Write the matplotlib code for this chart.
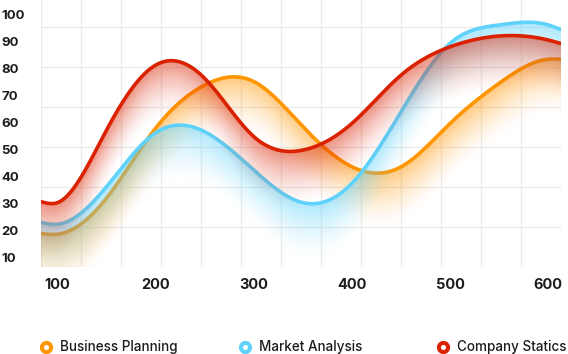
import numpy as np
import matplotlib
matplotlib.use('Agg')
import matplotlib.pyplot as plt
from matplotlib.lines import Line2D

# values
x = [83, 100, 150, 200, 250, 300, 350, 400, 450, 500, 550, 600, 612]
business = [19.0, 18.7, 32.1, 58.0, 74.0, 75.3, 58.6, 43.7, 43.7, 59.8, 74.7, 83.6, 83.6]
market = [23.1, 22.4, 36.3, 56.3, 56.7, 42.5, 30.4, 37.6, 64.1, 89.5, 96.3, 96.3, 94.7]
company = [30.8, 30.4, 57.3, 81.4, 76.5, 54.9, 49.9, 59.8, 77.7, 88.2, 92.2, 90.7, 89.5]
names = ['Business Planning', 'Market Analysis', 'Company Statics']
colors = ['#FF9500', '#5ED2FA', '#DA2200']
xticks = [100, 200, 300, 400, 500, 600]
yticks = [10, 20, 30, 40, 50, 60, 70, 80, 90, 100]

W, H = 568, 354
FONT = 'Inter'
TXT = '#1c1c1c'


def spline(xs, ys, xn):
    # natural cubic spline, just for drawing the curves smooth
    xs = np.asarray(xs, float)
    ys = np.asarray(ys, float)
    n = len(xs)
    h = np.diff(xs)
    A = np.zeros((n, n))
    b = np.zeros(n)
    A[0, 0] = A[-1, -1] = 1
    for i in range(1, n - 1):
        A[i, i - 1] = h[i - 1]
        A[i, i] = 2 * (h[i - 1] + h[i])
        A[i, i + 1] = h[i]
        b[i] = 3 * ((ys[i + 1] - ys[i]) / h[i] - (ys[i] - ys[i - 1]) / h[i - 1])
    c = np.linalg.solve(A, b)
    k = np.clip(np.searchsorted(xs, xn) - 1, 0, n - 2)
    bb = (ys[1:] - ys[:-1]) / h - h * (2 * c[:-1] + c[1:]) / 3
    d = (c[1:] - c[:-1]) / (3 * h)
    t = xn - xs[k]
    return ys[k] + bb[k] * t + c[k] * t ** 2 + d[k] * t ** 3


fig = plt.figure(figsize=(W / 100, H / 100), dpi=100)
rect = [41 / W, (H - 267) / H, 520 / W, 267 / H]

# background grid (40px cells, independent of the labels)
gax = fig.add_axes(rect, zorder=0)
gax.set_xlim(0, 13)
gax.set_ylim(0, 267 / 40)
gax.set_xticks(range(14))
gax.set_yticks(range(7))
gax.grid(True, color='#ececec', lw=1)
gax.tick_params(length=0, labelbottom=False, labelleft=False)
for s in gax.spines.values():
    s.set_visible(False)

ax = fig.add_axes(rect, zorder=1)
ax.patch.set_visible(False)
ylo, yhi = 6.55, 105.55
xlo, xhi = 83.3, 612.9

xn = np.linspace(x[0], x[-1], 700)
yy = np.linspace(ylo, yhi, 500)[:, None]
z = 2
for vals, col in zip([business, market, company], colors):
    ys = spline(x, vals, xn)
    d = (ys[None, :] - yy) / 21.0
    a = np.where((d >= 0) & (d <= 1), (1 - np.clip(d, 0, 1)) ** 1.5, 0) * 0.5
    img = np.zeros((len(yy), len(xn), 4))
    img[..., :3] = matplotlib.colors.to_rgb(col)
    img[..., 3] = a
    ax.imshow(img, extent=[xn[0], xn[-1], ylo, yhi], origin='lower',
              aspect='auto', interpolation='bilinear', zorder=z)
    ax.plot(xn, ys, color=col, lw=2.6, solid_capstyle='round', zorder=z + 1)
    z += 2

ax.set_xlim(xlo, xhi)
ax.set_ylim(ylo, yhi)
ax.set_xticks(xticks)
ax.set_yticks(yticks)
ax.tick_params(length=0)
ax.tick_params(axis='y', pad=28.8)
ax.tick_params(axis='x', pad=8)
for lab in ax.get_yticklabels():
    lab.set_ha('left')
    lab.set_fontfamily(FONT)
    lab.set_fontweight('bold')
    lab.set_fontsize(9.5)
    lab.set_color(TXT)
for lab in ax.get_xticklabels():
    lab.set_fontfamily(FONT)
    lab.set_fontweight('bold')
    lab.set_fontsize(10.5)
    lab.set_color(TXT)
for s in ax.spines.values():
    s.set_visible(False)

# legend row
leg_x = [46, 245, 443]
for px, name, col in zip(leg_x, names, colors):
    fig.add_artist(Line2D([px / W], [1 - 347 / H], transform=fig.transFigure,
                          marker='o', ms=6.6, mew=2.9, mec=col, mfc='white', lw=0))
    fig.text((px + 14) / W, 1 - 347 / H, name, family=FONT, weight='medium',
             fontsize=9.7, color=TXT, va='center', ha='left')

fig.savefig('out.png', dpi=100)
